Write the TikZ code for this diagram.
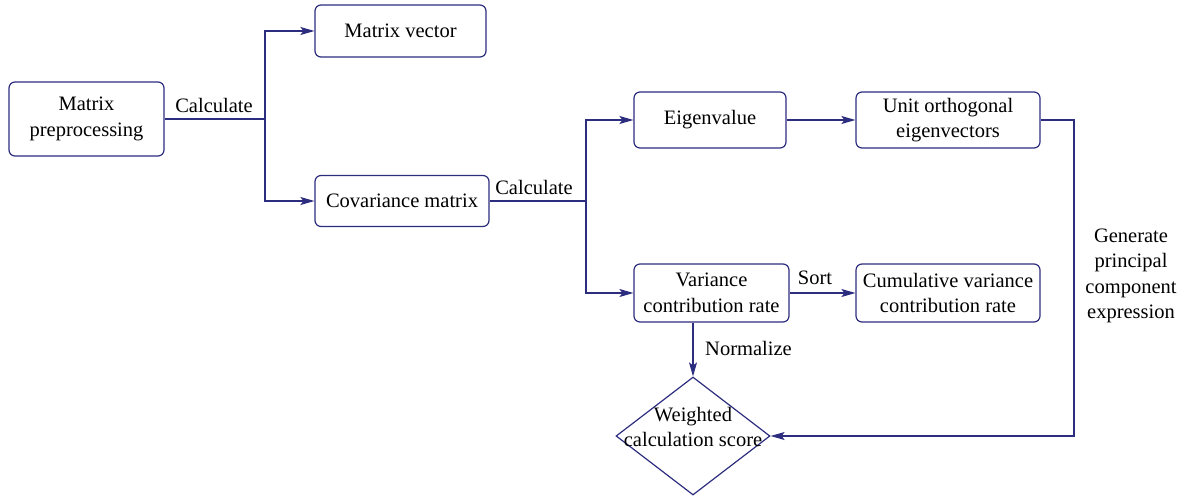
\documentclass[tikz,border=0pt]{standalone}
\usepackage{fontspec}
\setmainfont{Liberation Serif}
\usetikzlibrary{arrows.meta,shapes.geometric}
\definecolor{ln}{RGB}{45,45,128}
\begin{document}
\begin{tikzpicture}[x=1pt,y=-1pt,
  every node/.style={font=\fontsize{20.5}{25.5}\selectfont, text=black},
  box/.style={draw=ln, line width=1.2pt, rounded corners=6pt, align=center, inner sep=0pt},
  con/.style={draw=ln, line width=1.2pt},
  arr/.style={con, -{Stealth[length=14pt,width=8pt,inset=3pt]}},
  lab/.style={inner sep=0pt, align=center}]
\useasboundingbox (0,0) rectangle (1188,498);
\node[box, minimum width=155, minimum height=74] (mp) at (86.5,119) {Matrix\\preprocessing};
\node[box, minimum width=171, minimum height=52] (mv) at (400.5,31) {Matrix vector};
\node[box, minimum width=174, minimum height=51] (cm) at (402,201) {Covariance matrix};
\node[box, minimum width=152, minimum height=56] (ev) at (710,120) {Eigenvalue};
\node[box, minimum width=184, minimum height=56] (uo) at (948,120) {Unit orthogonal\\eigenvectors};
\node[box, minimum width=155, minimum height=58] (vc) at (711.5,293) {Variance\\contribution rate};
\node[box, minimum width=184, minimum height=58] (cu) at (948,293) {Cumulative variance\\contribution rate};
\node[draw=ln, line width=1.2pt, diamond, minimum width=154, minimum height=118, inner sep=0pt] (ws) at (693,436) {};
\node[lab] (wst) at (693,427) {Weighted\\calculation score};
\coordinate (j1) at (265,119);
\coordinate (j2) at (586,201);
\coordinate (j3) at (1074,436);
\draw[con] (mp.east) -- (j1);
\draw[arr] (j1) |- (mv.west);
\draw[arr] (j1) |- (cm.west);
\draw[con] (cm.east) -- (j2);
\draw[arr] (j2) |- (ev.west);
\draw[arr] (j2) |- (vc.west);
\draw[arr] (ev) -- (uo);
\draw[arr] (vc) -- (cu);
\draw[arr] (uo.east) -| (j3) -- (ws.east);
\draw[arr] (vc.south -| ws.north) -- (ws.north);
\node[lab] (l1) at (214,105) {Calculate};
\node[lab] (l2) at (534,187) {Calculate};
\node[lab] (l3) at (815,278) {Sort};
\node[lab, anchor=west] (l4) at (705,348) {Normalize};
\node[lab] (l5) at (1131,276) {Generate\\principal\\component\\expression};
\end{tikzpicture}
\end{document}
